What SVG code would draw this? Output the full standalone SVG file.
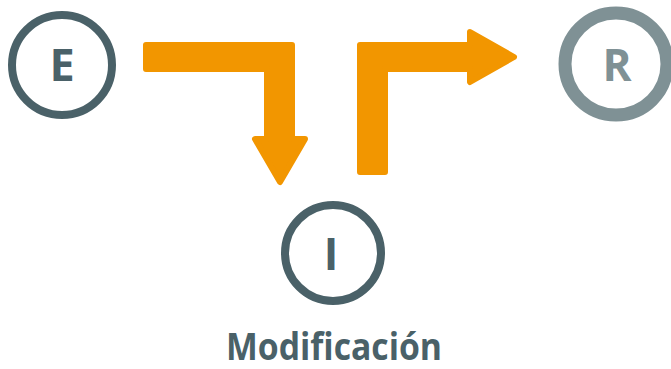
<svg xmlns="http://www.w3.org/2000/svg" width="671" height="369" viewBox="0 0 671 369">
<style>
.ring{fill:none;stroke:#4a6168;stroke-width:8}
.lbl{font-family:"Open Sans","Liberation Sans",sans-serif;font-weight:bold;fill:#4a6168;text-anchor:middle}
.arrow{fill:#f29600;stroke:#f29600;stroke-width:6;stroke-linejoin:round}
</style>
<rect width="671" height="369" fill="#ffffff"/>
<g id="connectors">
<polygon class="arrow" points="146,45 292,45 292,139 305,139 280,182 255,139 267,139 267,69 146,69"/>
<polygon class="arrow" points="360,172 360,45 470,45 470,32 514,57 470,82 470,69 385,69 385,172"/>
</g>
<g id="node-E">
<circle class="ring" cx="62" cy="65" r="50"/>
<text class="lbl" x="62" y="81" font-size="45">E</text>
</g>
<g id="node-R">
<circle class="ring" cx="616" cy="64" r="51" style="stroke:#7f9195;stroke-width:13"/>
<text class="lbl" x="617" y="81" font-size="44" style="fill:#7f9195">R</text>
</g>
<g id="node-I">
<circle class="ring" cx="333" cy="253" r="48"/>
<text class="lbl" x="331" y="270" font-size="44">I</text>
</g>
<text class="lbl" x="334" y="360" font-size="38" textLength="216" lengthAdjust="spacingAndGlyphs">Modificación</text>
</svg>
